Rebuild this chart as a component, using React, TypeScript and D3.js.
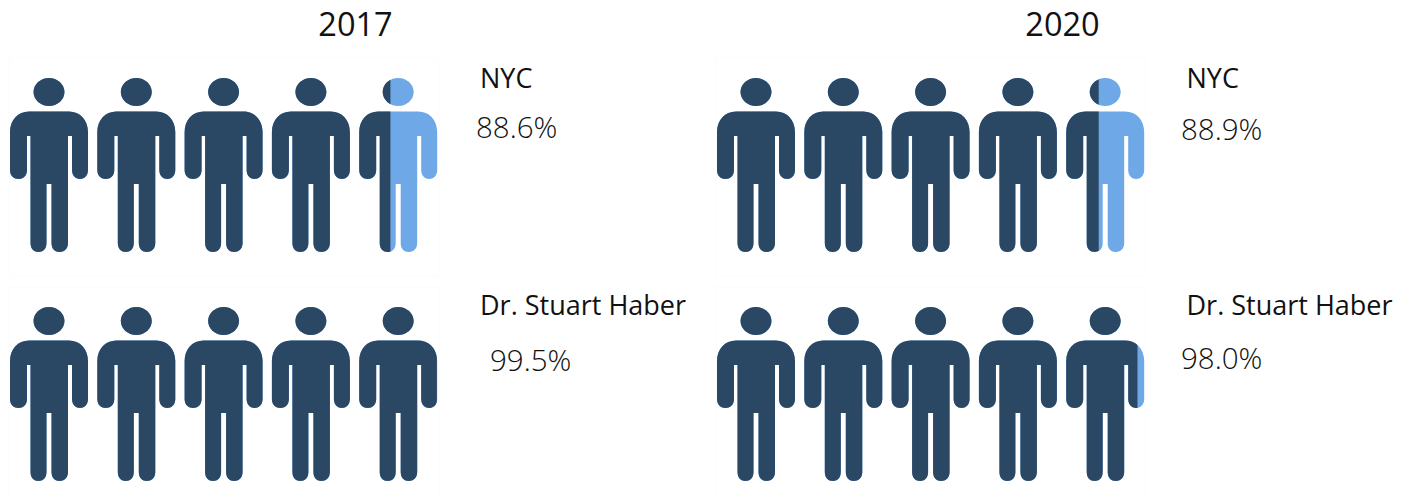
import React, { useEffect, useRef } from 'react';
import * as d3 from 'd3';

const years = ['2017', '2020'];
const groups = ['NYC', 'Dr. Stuart Haber'];
const rates2017 = [88.6, 99.5];
const rates2020 = [88.9, 98.0];
const rateLabels2017 = ['88.6%', '99.5%'];
const rateLabels2020 = ['88.9%', '98.0%'];
const people = [0, 1, 2, 3, 4];

const DARK = '#2c4763';
const LIGHT = '#6ea8e6';
const FONT = '"Open Sans", "Noto Sans", sans-serif';

// icon outline, 78 wide, 174 tall, origin at the top left of the head
const ICON =
  'M39 0C47.5 0 54.5 6.3 54.5 14C54.5 21.7 47.5 28 39 28C30.5 28 23.5 21.7 23.5 14C23.5 6.3 30.5 0 39 0Z' +
  'M19 33.5L59 33.5C70 33.5 78 42 78 54L78 92C78 98 74 101 70 101C66 101 62 98 62 92L62 58L58 58L58 165' +
  'C58 171 54 174 49.5 174C45 174 41.5 171 41.5 165L41.5 106L36.5 106L36.5 165C36.5 171 33 174 28.5 174' +
  'C24 174 20.5 171 20.5 165L20.5 58L17 58L17 92C17 98 13 101 8.5 101C4 101 0 98 0 92L0 54C0 42 8 33.5 19 33.5Z';

export default function App() {
  const ref = useRef<SVGSVGElement>(null);

  useEffect(() => {
    if (!ref.current) return;
    const svg = d3.select(ref.current);
    svg.selectAll('*').remove();

    const width = 1412;
    const height = 499;
    svg.attr('width', width).attr('height', height);

    const xYear = d3.scaleBand().domain(years).range([0, 1414]);
    const yGroup = d3.scaleBand().domain(groups).range([59, 517]);
    const xPerson = d3.scaleBand<number>().domain(people).range([10, 446.5]);
    // share of the row that is filled dark, in the coordinates of one panel
    const xRate = d3.scaleLinear().domain([0, 100]).range([13, 439]);

    const defs = svg.append('defs');
    defs.append('filter').attr('id', 'soft')
      .append('feGaussianBlur').attr('stdDeviation', 0.5);

    years.forEach((year, yi) => {
      const rates = yi === 0 ? rates2017 : rates2020;
      const labels = yi === 0 ? rateLabels2017 : rateLabels2020;
      const panel = svg.append('g').attr('transform', `translate(${xYear(year)},0)`);

      panel.append('text')
        .attr('x', 355.5)
        .attr('y', 36)
        .attr('text-anchor', 'middle')
        .style('font-family', FONT)
        .style('font-size', '32.5px')
        .style('fill', '#111')
        .text(year);

      groups.forEach((group, gi) => {
        const top = yGroup(group) as number;
        const clipId = `clip-${yi}-${gi}`;

        // faint edges of the pasted picture
        panel.append('rect')
          .attr('x', 9).attr('y', top - 1)
          .attr('width', 430).attr('height', 218)
          .attr('fill', 'none').attr('stroke', '#fcfcfc');

        defs.append('clipPath').attr('id', clipId)
          .append('rect')
          .attr('x', 0).attr('y', top)
          .attr('width', xRate(rates[gi])).attr('height', 230);

        const row = panel.append('g')
          .attr('filter', 'url(#soft)');

        people.forEach(p => {
          row.append('path')
            .attr('transform', `translate(${xPerson(p)},${top + 19})`)
            .attr('d', ICON)
            .attr('fill', LIGHT);
        });

        const darkRow = row.append('g').attr('clip-path', `url(#${clipId})`);
        people.forEach(p => {
          darkRow.append('path')
            .attr('transform', `translate(${xPerson(p)},${top + 19})`)
            .attr('d', ICON)
            .attr('fill', DARK);
        });

        panel.append('text')
          .attr('x', yi === 0 ? 480 : 479.5)
          .attr('y', gi === 0 ? 88 : 315)
          .style('font-family', FONT)
          .style('font-size', '27px')
          .style('fill', '#111')
          .text(group);

        panel.append('text')
          .attr('x', yi === 0 ? (gi === 0 ? 476 : 490) : 474)
          .attr('y', gi === 0 ? (yi === 0 ? 138 : 139.5) : (yi === 0 ? 371 : 369))
          .style('font-family', FONT)
          .style('font-size', '29.5px')
          .style('font-weight', 300)
          .style('fill', '#111')
          .text(labels[gi]);
      });
    });
  }, []);

  return (
    <svg
      ref={ref}
      style={{ position: 'absolute', left: 0, top: 0, background: '#fff', display: 'block' }}
    />
  );
}
